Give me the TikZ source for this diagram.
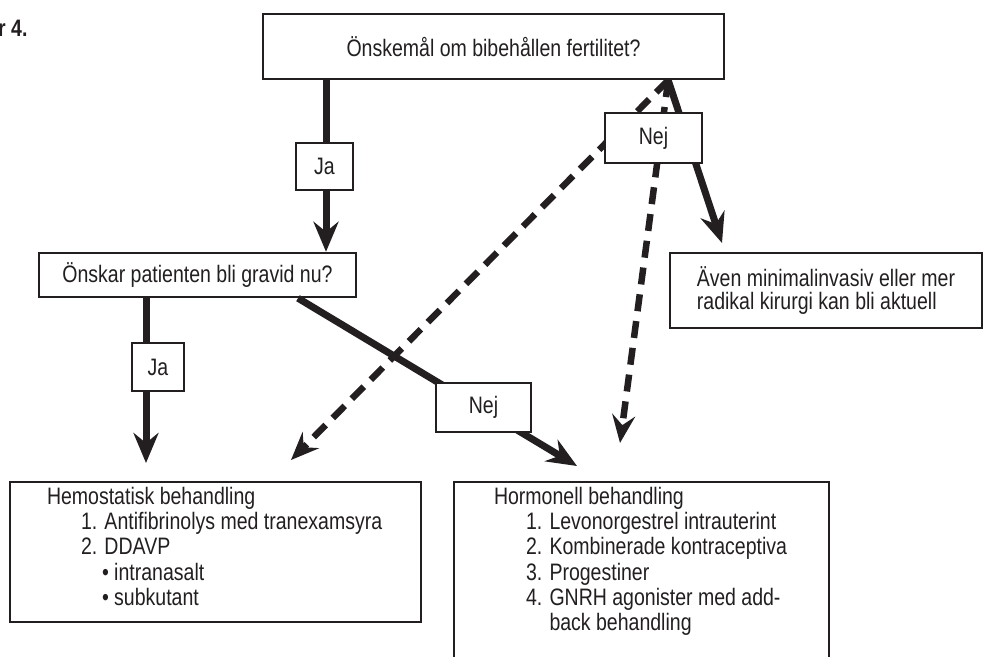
\documentclass[tikz,border=0pt]{standalone}
\usepackage{fontspec}
\setmainfont{Liberation Sans}[FakeStretch=0.82]
\usepackage{tikz}
\usetikzlibrary{arrows.meta, positioning, calc}

\definecolor{ink}{RGB}{35,31,32}

\begin{document}
\begin{tikzpicture}[
  x=1pt, y=-1pt,
  font=\fontsize{23.8}{25.3}\selectfont,
  qbox/.style={draw=ink, line width=2.4pt, fill=white, align=center, inner sep=0pt, text=ink},
  answer/.style={qbox, minimum width=55pt, minimum height=48pt},
  listtext/.style={align=left, inner sep=0pt, anchor=north west, text=ink},
  edge/.style={draw=ink, line width=7pt, -{Stealth[length=30pt, width=25pt, inset=10pt]}},
  dashedge/.style={draw=ink, line width=6.5pt, dash pattern=on 17pt off 10pt, -{Stealth[length=28pt, width=23pt, inset=10pt]}}
]
\useasboundingbox (0,0) rectangle (985,656);

\node[anchor=west, inner sep=0pt, text=ink, font=\fontsize{23.8}{25.3}\selectfont\bfseries] (fignum) at (-2,28) {r 4.};

\node[qbox, minimum width=461pt, minimum height=65pt] (fertil) at (493.5,46.5) {Önskemål om bibehållen fertilitet?};
\node[qbox, minimum width=317pt, minimum height=44pt] (gravid) at (197.5,275) {Önskar patienten bli gravid nu?};
\node[qbox, align=left, minimum width=312pt, minimum height=75pt, font=\fontsize{23.8}{22.5}\selectfont] (kirurgi) at (826,290.5) {Även minimalinvasiv eller mer\\radikal kirurgi kan bli aktuell};
\node[qbox, minimum width=411pt, minimum height=140pt] (hemo) at (215.5,552) {};
\node[qbox, minimum width=375pt, minimum height=218pt] (hormon) at (641.5,591) {};

\node[listtext] (hemolist) at ([xshift=38pt, yshift=-6pt]hemo.north west) {Hemostatisk behandling\\
\hspace*{34pt}1. Antifibrinolys med tranexamsyra\\
\hspace*{34pt}2. DDAVP\\
\hspace*{55pt}• intranasalt\\
\hspace*{55pt}• subkutant};
\node[listtext] (hormlist) at ([xshift=41pt, yshift=-6pt]hormon.north west) {Hormonell behandling\\
\hspace*{32pt}1. Levonorgestrel intrauterint\\
\hspace*{32pt}2. Kombinerade kontraceptiva\\
\hspace*{32pt}3. Progestiner\\
\hspace*{32pt}4. GNRH agonister med add-\\
\hspace*{32pt}\phantom{4. }back behandling};

% free ends of the arrows
\coordinate (split) at ([xshift=-57pt]fertil.south east);
\coordinate (hemotip) at (146,463);
\coordinate (hormtip) at (577,466);
\coordinate (kirtip) at (722,243);
\coordinate (hemodtip) at (291,460);
\coordinate (hormdtip) at (620,443);

\draw[dashedge] (split) -- (hemodtip);
\draw[dashedge] (split) -- (hormdtip);
\draw[edge] (split) -- (kirtip);
\draw[edge] ([xshift=-167.5pt]fertil.south) -- ([xshift=128.5pt]gravid.north);
\draw[edge] ([xshift=-51.5pt]gravid.south) -- (hemotip);
\draw[edge] ([xshift=100.5pt]gravid.south) -- (hormtip);

\node[answer, minimum width=57pt, minimum height=47pt] (ja1) at (324.5,166.5) {Ja};
\node[answer, minimum width=52pt] (ja2) at (158,367) {Ja};
\node[answer, minimum width=97pt, minimum height=50pt] (nej1) at (653.5,138) {Nej};
\node[answer, minimum width=95pt, minimum height=49pt] (nej2) at (483.5,407.5) {Nej};
\end{tikzpicture}
\end{document}
